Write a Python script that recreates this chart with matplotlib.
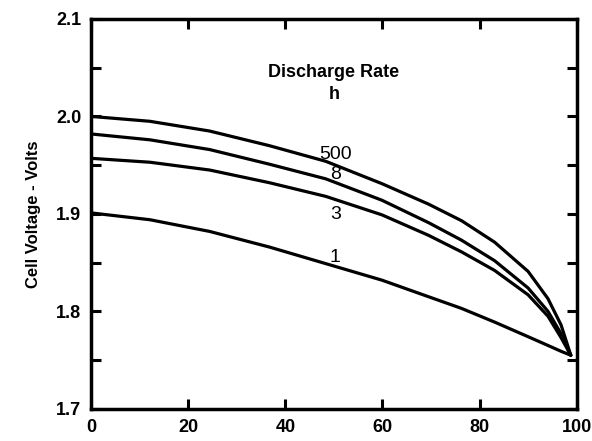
import matplotlib
matplotlib.use('Agg')
from matplotlib import pyplot as plt
from matplotlib.ticker import MultipleLocator, FormatStrFormatter

plt.rcParams['font.family'] = ['Liberation Sans', 'DejaVu Sans']

# percent of capacity discharged
x_pts = [0, 12.1, 24.4, 36.7, 48.3, 59.9, 69.5, 76.3, 83.1, 90, 94.1, 96.8, 98.8]
v_500 = [2.000, 1.995, 1.985, 1.970, 1.954, 1.931, 1.910, 1.893, 1.871, 1.841, 1.813, 1.786, 1.755]
v_8 = [1.982, 1.976, 1.966, 1.951, 1.936, 1.914, 1.891, 1.873, 1.852, 1.824, 1.800, 1.777, 1.755]
v_3 = [1.957, 1.953, 1.945, 1.932, 1.918, 1.899, 1.878, 1.861, 1.842, 1.817, 1.795, 1.773, 1.755]
v_1 = [1.901, 1.894, 1.882, 1.866, 1.849, 1.832, 1.815, 1.803, 1.789, 1.774, 1.765, 1.759, 1.755]

rate_labels = ['500', '8', '3', '1']
label_y = [1.961, 1.940, 1.899, 1.855]

fig = plt.figure(figsize=(5.92, 4.41), dpi=100)
ax = fig.add_axes([0.154, 0.073, 0.820, 0.884])

for vs in [v_500, v_8, v_3, v_1]:
    ax.plot(x_pts, vs, color='black', lw=2.3, solid_capstyle='round', solid_joinstyle='round')

for txt, yy in zip(rate_labels, label_y):
    ax.text(50.3, yy, txt, ha='center', va='center', fontsize=14, color='black')

ax.text(50, 2.045, 'Discharge Rate', ha='center', va='center', fontsize=13, fontweight='bold')
ax.text(50, 2.022, 'h', ha='center', va='center', fontsize=13, fontweight='bold')

ax.set_xlim(0, 100)
ax.set_ylim(1.7, 2.1)
ax.xaxis.set_major_locator(MultipleLocator(20))
ax.yaxis.set_major_locator(MultipleLocator(0.1))
ax.yaxis.set_minor_locator(MultipleLocator(0.05))
ax.yaxis.set_major_formatter(FormatStrFormatter('%.1f'))

ax.tick_params(which='both', direction='in', top=True, right=True, length=7, width=2.2,
               labelsize=13, pad=7)
for lab in ax.get_xticklabels() + ax.get_yticklabels():
    lab.set_fontweight('bold')
for sp in ax.spines.values():
    sp.set_linewidth(2.5)

ax.set_ylabel('Cell Voltage - Volts', fontsize=12, fontweight='bold', labelpad=11)

fig.savefig('out.png', dpi=100)
